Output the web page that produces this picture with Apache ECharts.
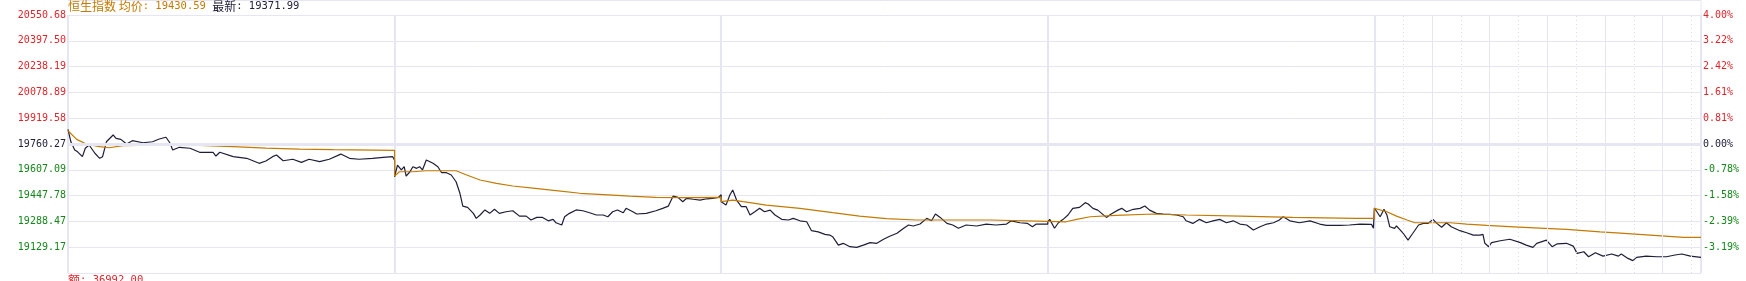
<!DOCTYPE html>
<html><head><meta charset="utf-8">
<script src="https://cdn.jsdelivr.net/npm/echarts@6/dist/echarts.min.js"></script>
<style>html,body{margin:0;padding:0;background:#fff;overflow:hidden}#c{width:1746px;height:281px}</style>
</head><body><div id="c"></div>
<script>
// ---- data ----
const titleName = '恒生指数';
const avgPriceText = '19430.59';
const lastPriceText = '19371.99';
const amountText = '36992.00';
const prevClose = 19760.27;
const gridStep = 159.31;
const minutesPerDay = 340;
const leftTickLabels = ['20550.68','20397.50','20238.19','20078.89','19919.58','19760.27','19607.09','19447.78','19288.47','19129.17',''];
const rightTickLabels = ['4.00%','3.22%','2.42%','1.61%','0.81%','0.00%','-0.78%','-1.58%','-2.39%','-3.19%',''];
const lastDaySolidMinutes = [60,120,180,240,300];
const lastDayDottedMinutes = [30,90,150,210,270,330];

const day1Price = [[0,19851],[3,19774],[7,19723],[10,19712],[15,19682],[18,19734],[22,19754],[28,19703],[33,19672],[36,19682],[40,19774],[47,19816],[50,19795],[55,19789],[61,19760],[67,19781],[78,19768],[88,19774],[95,19791],[102,19802],[106,19768],[109,19723],[116,19740],[127,19734],[137,19709],[151,19709],[154,19686],[158,19709],[172,19682],[186,19672],[199,19641],[206,19655],[213,19682],[217,19692],[224,19657],[234,19666],[243,19647],[251,19666],[262,19651],[272,19666],[284,19698],[293,19672],[303,19666],[317,19672],[328,19678],[338,19682],[340,19660]];
const day1Avg = [[0,19842],[9,19789],[19,19760],[33,19744],[43,19737],[57,19750],[102,19754],[137,19752],[172,19744],[206,19735],[241,19729],[276,19725],[340,19721]];

const day2Price = [[0,19558],[3,19630],[7,19600],[10,19620],[12,19562],[16,19589],[19,19620],[23,19610],[26,19620],[29,19600],[33,19661],[40,19641],[45,19620],[49,19583],[54,19583],[59,19569],[64,19527],[68,19456],[71,19377],[76,19369],[82,19332],[85,19301],[89,19322],[94,19353],[99,19332],[104,19357],[109,19332],[116,19342],[123,19348],[130,19315],[137,19315],[142,19291],[148,19307],[154,19307],[160,19286],[165,19295],[168,19274],[174,19260],[177,19311],[182,19332],[189,19353],[196,19348],[203,19336],[210,19322],[217,19322],[222,19311],[227,19342],[232,19353],[238,19336],[241,19363],[248,19342],[252,19328],[262,19332],[272,19348],[279,19363],[285,19377],[290,19439],[295,19431],[300,19404],[304,19425],[311,19419],[318,19414],[325,19422],[331,19425],[337,19431],[340,19447]];
const day2Avg = [[0,19562],[5,19589],[19,19589],[33,19595],[64,19595],[75,19569],[89,19538],[106,19517],[123,19501],[144,19488],[168,19472],[193,19456],[227,19445],[245,19439],[272,19431],[297,19429],[340,19431]];

const day3Price = [[0,19404],[5,19383],[9,19445],[12,19476],[16,19414],[21,19373],[26,19373],[30,19322],[35,19342],[40,19363],[45,19342],[51,19352],[56,19322],[63,19295],[70,19291],[75,19301],[82,19286],[89,19280],[94,19225],[101,19218],[108,19202],[113,19198],[116,19188],[122,19136],[127,19147],[134,19126],[141,19122],[148,19136],[155,19151],[162,19147],[169,19172],[176,19192],[183,19209],[190,19240],[195,19260],[200,19254],[207,19266],[214,19301],[219,19286],[223,19328],[228,19307],[235,19270],[241,19260],[247,19240],[255,19260],[266,19254],[276,19266],[286,19260],[297,19266],[302,19286],[311,19274],[319,19270],[324,19249],[328,19266],[340,19266]];
const day3Avg = [[0,19404],[2,19396],[12,19414],[23,19404],[47,19383],[82,19363],[116,19336],[144,19315],[172,19299],[203,19291],[280,19291],[340,19283]];

const day4Price = [[0,19280],[2,19295],[7,19240],[11,19274],[16,19295],[21,19322],[26,19363],[33,19369],[39,19398],[42,19390],[47,19363],[52,19352],[61,19307],[66,19328],[73,19352],[77,19363],[82,19342],[89,19357],[96,19363],[101,19377],[106,19352],[113,19332],[120,19328],[127,19326],[134,19322],[141,19311],[144,19286],[151,19270],[158,19295],[165,19274],[172,19286],[179,19295],[186,19274],[193,19286],[200,19266],[207,19260],[214,19229],[221,19249],[228,19266],[235,19274],[241,19291],[245,19311],[252,19286],[262,19274],[273,19286],[283,19266],[290,19258],[304,19258],[314,19260],[325,19266],[337,19264],[339,19240],[340,19240]];
const day4Avg = [[0,19280],[19,19280],[30,19295],[44,19311],[71,19320],[110,19328],[144,19322],[200,19315],[255,19307],[321,19301],[340,19301]];

const day5Price = [[0,19365],[2,19369],[6,19311],[10,19357],[13,19322],[16,19249],[21,19239],[23,19254],[27,19229],[30,19209],[35,19167],[40,19209],[46,19260],[51,19270],[56,19270],[61,19295],[65,19270],[70,19246],[75,19274],[80,19249],[89,19225],[96,19212],[103,19198],[110,19198],[113,19202],[115,19147],[119,19126],[122,19151],[131,19163],[141,19172],[152,19151],[158,19136],[165,19122],[169,19147],[179,19167],[185,19126],[190,19143],[200,19147],[207,19130],[211,19085],[218,19095],[223,19064],[230,19089],[238,19068],[247,19081],[254,19068],[257,19081],[264,19054],[269,19040],[273,19060],[283,19068],[294,19064],[304,19064],[313,19075],[320,19081],[329,19068],[340,19060]];
const day5Avg = [[0,19363],[13,19342],[23,19315],[34,19291],[42,19274],[79,19274],[96,19266],[117,19258],[145,19249],[172,19241],[200,19233],[235,19218],[252,19212],[287,19198],[322,19184],[340,19184]];

const priceDays = [day1Price, day2Price, day3Price, day4Price, day5Price];
const avgDays = [day1Avg, day2Avg, day3Avg, day4Avg, day5Avg];

// ---- build ----
const RED = '#e0242c', GREEN = '#15861a', DARK = '#22223a', ORANGE = '#c47a00', NAVY = '#1e1e38', GRID = '#e6e6f2';
function flatten(days) {
  const out = [];
  days.forEach((d, i) => d.forEach(([m, p]) => out.push([i * minutesPerDay + m, p])));
  return out;
}
const nDays = priceDays.length;
const lastStart = (nDays - 1) * minutesPerDay;
const markData = [{ yAxis: prevClose, lineStyle: { color: GRID, width: 3, type: 'solid' } }];
lastDaySolidMinutes.forEach(m => markData.push({ xAxis: lastStart + m, lineStyle: { color: GRID, width: 1, type: 'solid' } }));
lastDayDottedMinutes.forEach(m => markData.push({ xAxis: lastStart + m, lineStyle: { color: '#dcdce8', width: 1, type: [1, 3] } }));

const labelColor = v => (v > 0 ? RED : v < 0 ? GREEN : DARK);
const MONO = "'DejaVu Sans Mono', 'Liberation Mono', monospace";

const chart = echarts.init(document.getElementById('c'), null, { renderer: 'canvas' });
chart.setOption({
  animation: false,
  backgroundColor: '#fff',
  grid: { left: 68, right: 45, top: 15, bottom: 8, containLabel: false },
  xAxis: {
    type: 'value', min: 0, max: nDays * minutesPerDay, interval: minutesPerDay,
    axisLine: { show: false }, axisTick: { show: false }, axisLabel: { show: false },
    splitLine: { show: true, lineStyle: { color: GRID, width: 2 } }
  },
  yAxis: [
    {
      type: 'value', min: -5, max: 5, interval: 1, position: 'left',
      axisLine: { show: false }, axisTick: { show: false },
      splitLine: { show: true, lineStyle: { color: GRID, width: 1 } },
      axisLabel: { formatter: v => leftTickLabels[5 - Math.round(v)], color: labelColor, fontFamily: MONO, fontSize: 10, margin: 2 }
    },
    {
      type: 'value', min: -5, max: 5, interval: 1, position: 'right',
      axisLine: { show: false }, axisTick: { show: false }, splitLine: { show: false },
      axisLabel: { formatter: v => rightTickLabels[5 - Math.round(v)], color: labelColor, fontFamily: MONO, fontSize: 10, margin: 2, align: 'left' }
    },
    { type: 'value', min: prevClose - 5 * gridStep, max: prevClose + 5 * gridStep, show: false }
  ],
  series: [
    {
      type: 'line', yAxisIndex: 2, data: [], z: 1, silent: true,
      markLine: { silent: true, symbol: ['none', 'none'], label: { show: false }, animation: false, data: markData }
    },
    {
      name: 'price', type: 'line', yAxisIndex: 2, data: flatten(priceDays), z: 3,
      showSymbol: false, symbol: 'none', lineStyle: { color: NAVY, width: 1.2 }, itemStyle: { color: NAVY }, silent: true
    },
    {
      name: 'avg', type: 'line', yAxisIndex: 2, data: flatten(avgDays), z: 4,
      showSymbol: false, symbol: 'none', lineStyle: { color: ORANGE, width: 1.2 }, itemStyle: { color: ORANGE }, silent: true
    }
  ],
  graphic: [
    { type: 'line', shape: { x1: 68, y1: 0.5, x2: 1701, y2: 0.5 }, style: { stroke: GRID, lineWidth: 1 }, silent: true },
    { type: 'line', shape: { x1: 1701, y1: 0, x2: 1701, y2: 15 }, style: { stroke: GRID, lineWidth: 1 }, silent: true },
    {
      type: 'text', x: 68, y: 0, silent: true,
      style: {
        text: '{o|' + titleName + ' 均价}{on|: ' + avgPriceText + ' }{d|最新}{dn|: ' + lastPriceText + '}',
        rich: {
          o: { fill: ORANGE, fontFamily: "'Noto Sans CJK SC'", fontSize: 12, lineHeight: 13 },
          on: { fill: ORANGE, fontFamily: MONO, fontSize: 10.5, lineHeight: 13 },
          d: { fill: DARK, fontFamily: "'Noto Sans CJK SC'", fontSize: 12, lineHeight: 13 },
          dn: { fill: DARK, fontFamily: MONO, fontSize: 10.5, lineHeight: 13 }
        }
      }
    },
    {
      type: 'text', x: 68, y: 274, silent: true,
      style: {
        text: '{c|额}{n|: ' + amountText + '}',
        rich: {
          c: { fill: RED, fontFamily: "'Noto Sans CJK SC'", fontSize: 12, lineHeight: 13 },
          n: { fill: RED, fontFamily: MONO, fontSize: 10.5, lineHeight: 13 }
        }
      }
    }
  ]
});
</script>
</body></html>
